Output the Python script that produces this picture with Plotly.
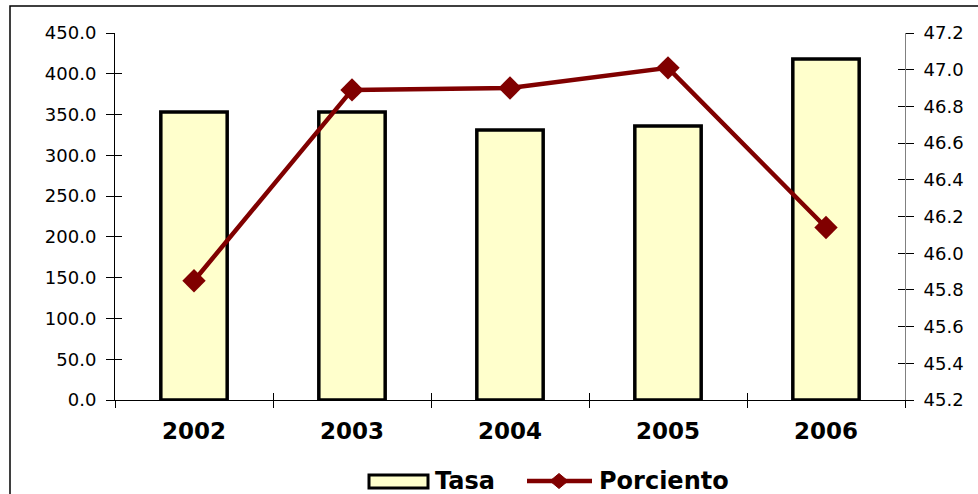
import plotly.graph_objects as go

years = ["2002", "2003", "2004", "2005", "2006"]
tasa = [353.0, 353.0, 331.0, 336.0, 418.0]
porciento = [45.85, 46.89, 46.90, 47.01, 46.14]
left_ticks = [0, 50, 100, 150, 200, 250, 300, 350, 400, 450]
right_ticks = [45.2, 45.4, 45.6, 45.8, 46.0, 46.2, 46.4, 46.6, 46.8, 47.0, 47.2]
series_names = ["Tasa", "Porciento"]

font = "DejaVu Sans, Verdana, sans-serif"
bar_fill = "#FFFFCC"
line_col = "#800000"

# plot-area geometry (pixels)
L, R, T, B = 115, 73, 33, 94
W, H = 978, 494
PW, PH = W - L - R, H - T - B


def px(xp):
    return (xp - L) / PW


def py(yp):
    return (H - B - yp) / PH


fig = go.Figure()
fig.add_trace(go.Bar(
    x=years, y=tasa, name=series_names[0], width=0.42,
    marker=dict(color=bar_fill, line=dict(color="black", width=3.5)),
    xaxis="x", yaxis="y", showlegend=False,
))
fig.add_trace(go.Scatter(
    x=years, y=porciento, name=series_names[1], mode="lines+markers",
    line=dict(color=line_col, width=4.5),
    marker=dict(symbol="diamond", size=18, color=line_col),
    xaxis="x", yaxis="y2", showlegend=False,
))
# invisible helper traces so overlay axes (inner half of crossing ticks) render
fig.add_trace(go.Scatter(x=years, y=tasa, mode="markers", marker=dict(opacity=0),
                         showlegend=False, hoverinfo="skip", xaxis="x2", yaxis="y3"))
fig.add_trace(go.Scatter(x=years, y=porciento, mode="markers", marker=dict(opacity=0),
                         showlegend=False, hoverinfo="skip", xaxis="x2", yaxis="y4"))

# manual legend (wide bar swatch + line/diamond swatch)
ly = py(481)
dw, dh = 9 / PW, 7.5 / PH
dx = px(559)
shapes = [
    dict(type="rect", xref="paper", yref="paper",
         x0=-105 / PW, x1=1.2, y0=-0.35, y1=1 + (T - 6) / PH,
         line=dict(color="black", width=1.5), fillcolor="rgba(0,0,0,0)", layer="below"),
    dict(type="rect", xref="paper", yref="paper",
         x0=px(369), x1=px(428), y0=py(488), y1=py(475),
         line=dict(color="black", width=3), fillcolor=bar_fill),
    dict(type="line", xref="paper", yref="paper",
         x0=px(527), x1=px(592), y0=ly, y1=ly,
         line=dict(color=line_col, width=4.5)),
    dict(type="path", xref="paper", yref="paper",
         path=f"M {dx - dw} {ly} L {dx} {ly + dh} L {dx + dw} {ly} L {dx} {ly - dh} Z",
         fillcolor=line_col, line=dict(color=line_col, width=1)),
]
annotations = [
    dict(text=series_names[0], xref="paper", yref="paper", x=px(433), y=ly,
         xanchor="left", yanchor="middle", showarrow=False,
         font=dict(size=24, family=font, color="black", weight="bold")),
    dict(text=series_names[1], xref="paper", yref="paper", x=px(597), y=ly,
         xanchor="left", yanchor="middle", showarrow=False,
         font=dict(size=24, family=font, color="black", weight="bold")),
]

fig.update_layout(
    width=W, height=H,
    margin=dict(l=L, r=R, t=T, b=B),
    paper_bgcolor="white", plot_bgcolor="white",
    font=dict(family=font, color="black", size=18),
    showlegend=False,
    xaxis=dict(type="category", categoryarray=years, range=[-0.5, 4.5],
               showline=True, linecolor="black", linewidth=1,
               ticks="outside", ticklen=7, tickcolor="black", tickson="boundaries",
               ticklabelstandoff=10,
               tickfont=dict(size=23, family=font, weight="bold"), showgrid=False,
               zeroline=False),
    xaxis2=dict(type="category", categoryarray=years, range=[-0.5, 4.5],
                overlaying="x", anchor="y3", side="bottom", showline=False,
                ticks="inside", ticklen=7,
                tickcolor="black", tickson="boundaries", showticklabels=False,
                showgrid=False, zeroline=False),
    yaxis=dict(range=[0, 450], tickvals=left_ticks, tickformat=".1f",
               showline=True, linecolor="black", linewidth=1,
               ticks="outside", ticklen=8, tickcolor="black", ticklabelstandoff=6,
               showgrid=False, zeroline=False, tickfont=dict(size=18)),
    yaxis2=dict(range=[45.2, 47.2], tickvals=right_ticks, tickformat=".1f",
                overlaying="y", side="right",
                showline=True, linecolor="#808080", linewidth=1,
                ticks="outside", ticklen=8, tickcolor="black", ticklabelstandoff=6,
                showgrid=False, zeroline=False, tickfont=dict(size=18)),
    yaxis3=dict(range=[0, 450], tickvals=left_ticks, overlaying="y", side="left",
                ticks="inside", ticklen=7, tickcolor="black", showticklabels=False,
                showgrid=False, zeroline=False, showline=False),
    yaxis4=dict(range=[45.2, 47.2], tickvals=right_ticks, overlaying="y", side="right",
                ticks="inside", ticklen=7, tickcolor="black", showticklabels=False,
                showgrid=False, zeroline=False, showline=False),
    shapes=shapes,
    annotations=annotations,
)

fig.write_html("out.html", config={"displayModeBar": False},
               post_script="document.body.style.margin='0';")
